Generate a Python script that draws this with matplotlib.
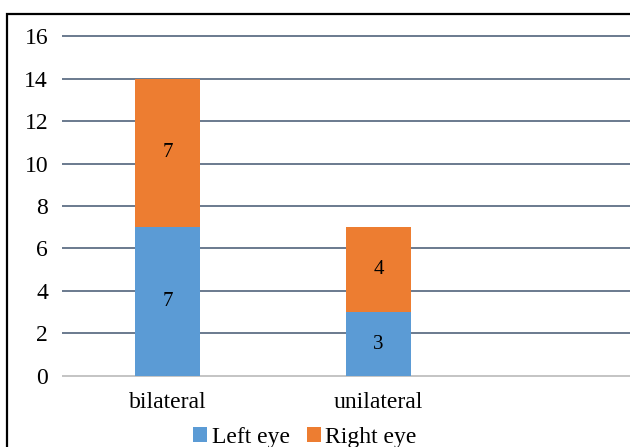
import matplotlib
matplotlib.use("Agg")
import matplotlib.pyplot as plt
from matplotlib.patches import Rectangle

categories = ["bilateral", "unilateral"]
left_eye = [7, 3]
right_eye = [7, 4]
yticks = [0, 2, 4, 6, 8, 10, 12, 14, 16]

plt.rcParams['font.family'] = ['Liberation Serif', 'DejaVu Serif']

W, H = 630, 447
fig = plt.figure(figsize=(W / 100, H / 100), dpi=100)
ax = fig.add_axes([62 / W, 1 - 377.06 / H, 1 - 62 / W, (377.06 - 34.94) / H])

blue = "#5B9BD5"
orange = "#ED7D31"
x = list(range(len(categories)))
bw = 0.31
b1 = ax.bar(x, left_eye, width=bw, color=blue, label="Left eye", zorder=3)
b2 = ax.bar(x, right_eye, width=bw, bottom=left_eye, color=orange, label="Right eye", zorder=3)
ax.bar_label(b1, labels=[str(v) for v in left_eye], label_type="center", fontsize=15)
ax.bar_label(b2, labels=[str(v) for v in right_eye], label_type="center", fontsize=15)

ax.set_xlim(-0.5, (630 - 167.5) / 211)
ax.set_ylim(-0.05, 16.05)
ax.set_yticks(yticks)
ax.set_xticks(x)
ax.set_xticklabels(categories, fontsize=17)
ax.tick_params(axis="y", length=0, pad=10, labelsize=17)
ax.tick_params(axis="x", length=0, pad=11)
for s in ax.spines.values():
    s.set_visible(False)
for v in yticks:
    ax.axhline(v, color="#BFBFBF" if v == 0 else "#5F6F86", linewidth=1.3, zorder=1)

fig.legend(handles=[b1, b2], loc="center", bbox_to_anchor=(305 / W, 1 - 437 / H),
           ncol=2, frameon=False, fontsize=17, handlelength=0.6, handleheight=0.6,
           handletextpad=0.2, columnspacing=0.7, borderpad=0)

fig.add_artist(Rectangle((7 / W, -0.2), 2, 1.2 - 14 / H, transform=fig.transFigure,
                         fill=False, edgecolor="black", linewidth=1.6, clip_on=False))

fig.savefig("out.png", dpi=100)
